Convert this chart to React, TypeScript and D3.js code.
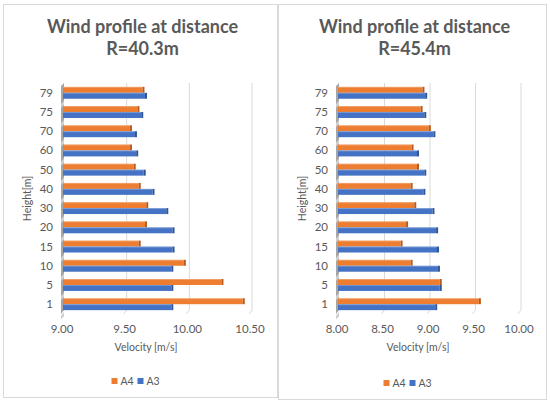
import * as d3 from "d3";
import { useEffect, useRef } from "react";

const heights = ["1", "5", "10", "15", "20", "30", "40", "50", "60", "70", "75", "79"];

const r40A4 = [10.45, 10.28, 9.98, 9.62, 9.67, 9.68, 9.62, 9.58, 9.55, 9.55, 9.61, 9.65];
const r40A3 = [9.88, 9.88, 9.88, 9.89, 9.89, 9.84, 9.73, 9.66, 9.6, 9.59, 9.64, 9.67];
const r40Ticks = [9.0, 9.5, 10.0, 10.5];

const r45A4 = [9.57, 9.14, 8.82, 8.71, 8.77, 8.86, 8.82, 8.89, 8.83, 9.02, 8.93, 8.95];
const r45A3 = [9.09, 9.14, 9.12, 9.11, 9.1, 9.06, 8.96, 8.97, 8.89, 9.07, 8.97, 8.98];
const r45Ticks = [8.0, 8.5, 9.0, 9.5, 10.0];

const ORANGE = "#ED7D31";
const ORANGE_DARK = "#B85A1B";
const BLUE = "#4472C4";
const BLUE_DARK = "#2F5597";
const TEXT = "#595959";
const FONT = "Lato, 'Open Sans', sans-serif";

type PanelProps = {
  left: number;
  width: number;
  height: number;
  title: string;
  a4: number[];
  a3: number[];
  ticks: number[];
};

const Panel = ({ left, width, height, title, a4, a3, ticks }: PanelProps) => {
  const ref = useRef<SVGGElement>(null);

  useEffect(() => {
    if (!ref.current) return;
    const g = d3.select(ref.current);
    g.selectAll("*").remove();

    const plotLeft = 58;
    const plotTop = 79;
    const plotBottom = 310;
    const plotRight = width - 27;

    g.append("rect")
      .attr("x", 0.5)
      .attr("y", 0.5)
      .attr("width", width - 1)
      .attr("height", height - 1)
      .attr("fill", "#fff")
      .attr("stroke", "#d9d9d9");

    // title
    const t = g
      .append("text")
      .attr("text-anchor", "middle")
      .attr("font-family", FONT)
      .attr("font-weight", "bold")
      .attr("font-size", 18)
      .attr("fill", TEXT);
    t.append("tspan").attr("x", width / 2 + 2).attr("y", 29).text("Wind profile at distance");
    t.append("tspan").attr("x", width / 2 + 2).attr("y", 51).text(title);

    const x = d3
      .scaleLinear()
      .domain([ticks[0], ticks[ticks.length - 1]])
      .range([plotLeft + 2, plotRight]);

    const y = d3
      .scaleBand()
      .domain([...heights].reverse())
      .range([plotTop, plotBottom])
      .paddingInner(0.38)
      .paddingOuter(0.2);

    // gridlines with the 3d floor slant
    g.selectAll(".grid")
      .data(ticks.slice(1))
      .enter()
      .append("path")
      .attr("class", "grid")
      .attr("d", (d) => `M${x(d) + 1},${plotTop} V${plotBottom - 4} L${x(d) - 2},${plotBottom}`)
      .attr("fill", "none")
      .attr("stroke", "#d9d9d9");

    // left wall
    g.append("path")
      .attr("d", `M${plotLeft},${plotTop + 3} L${plotLeft + 3},${plotTop} V${plotBottom - 4} L${plotLeft},${plotBottom} Z`)
      .attr("fill", "#a6a6a6");
    g.selectAll(".wall")
      .data(heights)
      .enter()
      .append("path")
      .attr("class", "wall")
      .attr("d", (d) => {
        const y0 = y(d)! + y.bandwidth() + 2;
        return `M${plotLeft},${y0 + 3} L${plotLeft + 3},${y0} V${y0 + 4} L${plotLeft},${y0 + 7} Z`;
      })
      .attr("fill", "#d0d0d0");

    const bh = y.bandwidth() / 2;
    const series = [
      { values: a4, fill: ORANGE, dark: ORANGE_DARK, off: 0 },
      { values: a3, fill: BLUE, dark: BLUE_DARK, off: bh },
    ];

    series.forEach((s) => {
      const bars = g
        .selectAll(null)
        .data(heights.map((h, i) => ({ h, v: s.values[i] })))
        .enter()
        .append("g");
      bars
        .append("rect")
        .attr("x", plotLeft + 2)
        .attr("y", (d) => y(d.h)! + s.off)
        .attr("width", (d) => x(d.v) - plotLeft - 4)
        .attr("height", bh)
        .attr("fill", s.fill);
      bars
        .append("rect")
        .attr("x", plotLeft + 2)
        .attr("y", (d) => y(d.h)! + s.off)
        .attr("width", (d) => x(d.v) - plotLeft - 4)
        .attr("height", 1)
        .attr("fill", "#fff")
        .attr("opacity", 0.25);
      bars
        .append("rect")
        .attr("x", (d) => x(d.v) - 2)
        .attr("y", (d) => y(d.h)! + s.off)
        .attr("width", 2)
        .attr("height", bh)
        .attr("fill", s.dark);
    });

    // y tick labels
    g.selectAll(".ylab")
      .data(heights)
      .enter()
      .append("text")
      .attr("class", "ylab")
      .attr("x", plotLeft - 8)
      .attr("y", (d) => y(d)! + y.bandwidth() / 2 + 4)
      .attr("text-anchor", "end")
      .attr("font-family", FONT)
      .attr("font-size", 11.5)
      .attr("fill", TEXT)
      .text((d) => d);

    // x tick labels
    g.selectAll(".xlab")
      .data(ticks)
      .enter()
      .append("text")
      .attr("class", "xlab")
      .attr("x", (d) => x(d) - 1)
      .attr("y", plotBottom + 19)
      .attr("text-anchor", "middle")
      .attr("font-family", FONT)
      .attr("font-size", 11.5)
      .attr("fill", TEXT)
      .text((d) => d3.format(".2f")(d));

    g.append("text")
      .attr("x", (plotLeft + plotRight) / 2 - 10)
      .attr("y", plotBottom + 37)
      .attr("text-anchor", "middle")
      .attr("font-family", FONT)
      .attr("font-size", 10.5)
      .attr("fill", TEXT)
      .text("Velocity [m/s]");

    g.append("text")
      .attr("transform", `translate(28,${(plotTop + plotBottom) / 2}) rotate(-90)`)
      .attr("text-anchor", "middle")
      .attr("font-family", FONT)
      .attr("font-size", 10.5)
      .attr("fill", TEXT)
      .text("Height[m]");

    // legend
    const lg = g.append("g").attr("transform", `translate(${width / 2 - 29},${height - 15})`);
    const items = [
      { name: "A4", fill: ORANGE },
      { name: "A3", fill: BLUE },
    ];
    items.forEach((it, i) => {
      lg.append("rect")
        .attr("x", i * 26)
        .attr("y", -5)
        .attr("width", 6)
        .attr("height", 6)
        .attr("fill", it.fill);
      lg.append("text")
        .attr("x", i * 26 + 9)
        .attr("y", 1.5)
        .attr("font-family", FONT)
        .attr("font-size", 10.5)
        .attr("fill", TEXT)
        .text(it.name);
    });
  }, [width, height, title, a4, a3, ticks]);

  return <g ref={ref} transform={`translate(${left},4)`} />;
};

export default function App() {
  return (
    <svg
      width={550}
      height={404}
      style={{ position: "absolute", left: 0, top: 0, background: "#fff" }}
    >
      <Panel left={3} width={275} height={394} title="R=40.3m" a4={r40A4} a3={r40A3} ticks={r40Ticks} />
      <Panel left={278} width={269} height={396} title="R=45.4m" a4={r45A4} a3={r45A3} ticks={r45Ticks} />
    </svg>
  );
}
